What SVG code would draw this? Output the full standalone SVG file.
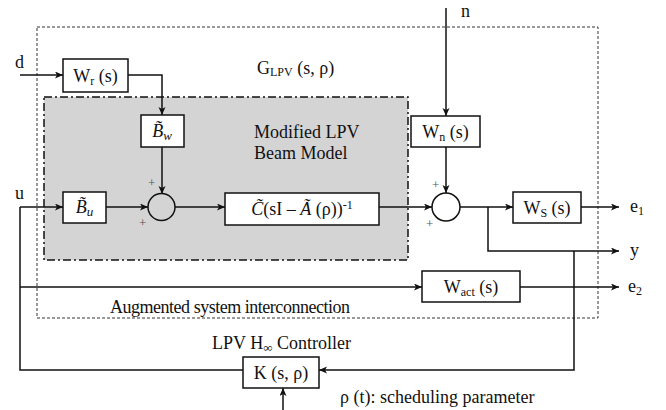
<svg xmlns="http://www.w3.org/2000/svg" width="666" height="410" viewBox="0 0 666 410">
<style>
text{font-family:"Liberation Serif","Times New Roman","DejaVu Serif",serif;font-size:18px;fill:#111}
.box{fill:#fff;stroke:#111;stroke-width:1.5}
.ln{fill:none;stroke:#111;stroke-width:1.5}
.pl{font-size:13px;fill:#555}
.it{font-style:italic}
.sb{font-size:12px}
</style>
<defs>
<marker id="ah" markerWidth="10" markerHeight="8" refX="8" refY="3.5" orient="auto" markerUnits="userSpaceOnUse">
<path d="M0,0 L8,3.5 L0,7 L2,3.5 z" fill="#111"/>
</marker>
</defs>
<rect x="0" y="0" width="666" height="410" fill="#fff"/>
<g id="outer">
<rect x="37" y="27" width="561" height="291" fill="none" stroke="#333" stroke-width="1" stroke-dasharray="3,2"/>
<text x="257" y="74">G<tspan class="sb" dy="2">LPV</tspan><tspan dy="-2"> (s, ρ)</tspan></text>
<text x="110" y="313" textLength="240">Augmented system interconnection</text>
</g>
<g id="beam-model">
<rect x="44" y="97" width="364" height="163" fill="#d4d4d4" stroke="#111" stroke-width="1.5" stroke-dasharray="8,3,2,3"/>
<text x="254" y="138">Modified LPV</text>
<text x="254" y="159">Beam Model</text>
</g>
<g id="connectors">
<path class="ln" d="M20,75 H63" marker-end="url(#ah)"/>
<path class="ln" d="M128,75 H162 V115" marker-end="url(#ah)"/>
<path class="ln" d="M162,147 V194" marker-end="url(#ah)"/>
<path class="ln" d="M20,207 H63" marker-end="url(#ah)"/>
<path class="ln" d="M106,207 H148" marker-end="url(#ah)"/>
<path class="ln" d="M175,207 H225" marker-end="url(#ah)"/>
<path class="ln" d="M379,207 H432" marker-end="url(#ah)"/>
<path class="ln" d="M446,8 V116" marker-end="url(#ah)"/>
<path class="ln" d="M446,147 V193" marker-end="url(#ah)"/>
<path class="ln" d="M460,207 H513" marker-end="url(#ah)"/>
<path class="ln" d="M581,207 H619" marker-end="url(#ah)"/>
<path class="ln" d="M488,207 V251 H619" marker-end="url(#ah)"/>
<path class="ln" d="M20,207 V370 H243"/>
<path class="ln" d="M20,287 H422" marker-end="url(#ah)"/>
<path class="ln" d="M520,287 H619" marker-end="url(#ah)"/>
<path class="ln" d="M574,251 V370 H319" marker-end="url(#ah)"/>
<path class="ln" d="M283,410 V388" marker-end="url(#ah)"/>
</g>
<g id="labels">
<text x="15" y="68">d</text>
<text x="15" y="199">u</text>
<text x="461" y="17">n</text>
<text x="630" y="212">e<tspan class="sb" dy="3">1</tspan></text>
<text x="630" y="256">y</text>
<text x="628" y="292">e<tspan class="sb" dy="3">2</tspan></text>
<text x="212" y="349">LPV H<tspan font-size="13" dy="3">∞</tspan><tspan dy="-3"> Controller</tspan></text>
<text x="340" y="403">ρ (t): scheduling parameter</text>
</g>
<g id="Wr">
<rect class="box" x="63" y="59" width="65" height="33"/>
<text x="95.5" y="82" text-anchor="middle">W<tspan class="sb" dy="3">r</tspan><tspan dy="-3"> (s)</tspan></text>
</g>
<g id="Bw">
<rect class="box" x="141" y="115" width="43" height="32"/>
<text x="162" y="137" text-anchor="middle" class="it">B̃<tspan font-size="13" dy="3">w</tspan></text>
</g>
<g id="Bu">
<rect class="box" x="63" y="192" width="43" height="31"/>
<text x="84.5" y="213" text-anchor="middle" class="it">B̃<tspan font-size="13" dy="3">u</tspan></text>
</g>
<g id="sum1">
<circle cx="161.5" cy="207" r="13.5" fill="none" stroke="#111" stroke-width="1.5"/>
<text class="pl" x="148" y="187">+</text>
<text class="pl" x="139" y="227">+</text>
</g>
<g id="plant">
<rect class="box" x="225" y="193" width="154" height="32"/>
<text x="302" y="215" text-anchor="middle"><tspan font-style="italic">C̃</tspan>(sI – <tspan font-style="italic">Ã</tspan> (ρ))<tspan font-size="12" dy="-6">-1</tspan></text>
</g>
<g id="Wn">
<rect class="box" x="411" y="116" width="69" height="31"/>
<text x="445.5" y="138" text-anchor="middle">W<tspan class="sb" dy="3">n</tspan><tspan dy="-3"> (s)</tspan></text>
</g>
<g id="sum2">
<circle cx="446" cy="207" r="14" fill="none" stroke="#111" stroke-width="1.5"/>
<text class="pl" x="432" y="189">+</text>
<text class="pl" x="426" y="228">+</text>
</g>
<g id="Ws">
<rect class="box" x="513" y="192" width="68" height="31"/>
<text x="547" y="214" text-anchor="middle">W<tspan class="sb" dy="3">S</tspan><tspan dy="-3"> (s)</tspan></text>
</g>
<g id="Wact">
<rect class="box" x="422" y="271" width="98" height="31"/>
<text x="471" y="293" text-anchor="middle">W<tspan class="sb" dy="3">act</tspan><tspan dy="-3"> (s)</tspan></text>
</g>
<g id="K">
<rect class="box" x="243" y="357" width="76" height="31"/>
<text x="281" y="379" text-anchor="middle">K (s, ρ)</text>
</g>
</svg>
